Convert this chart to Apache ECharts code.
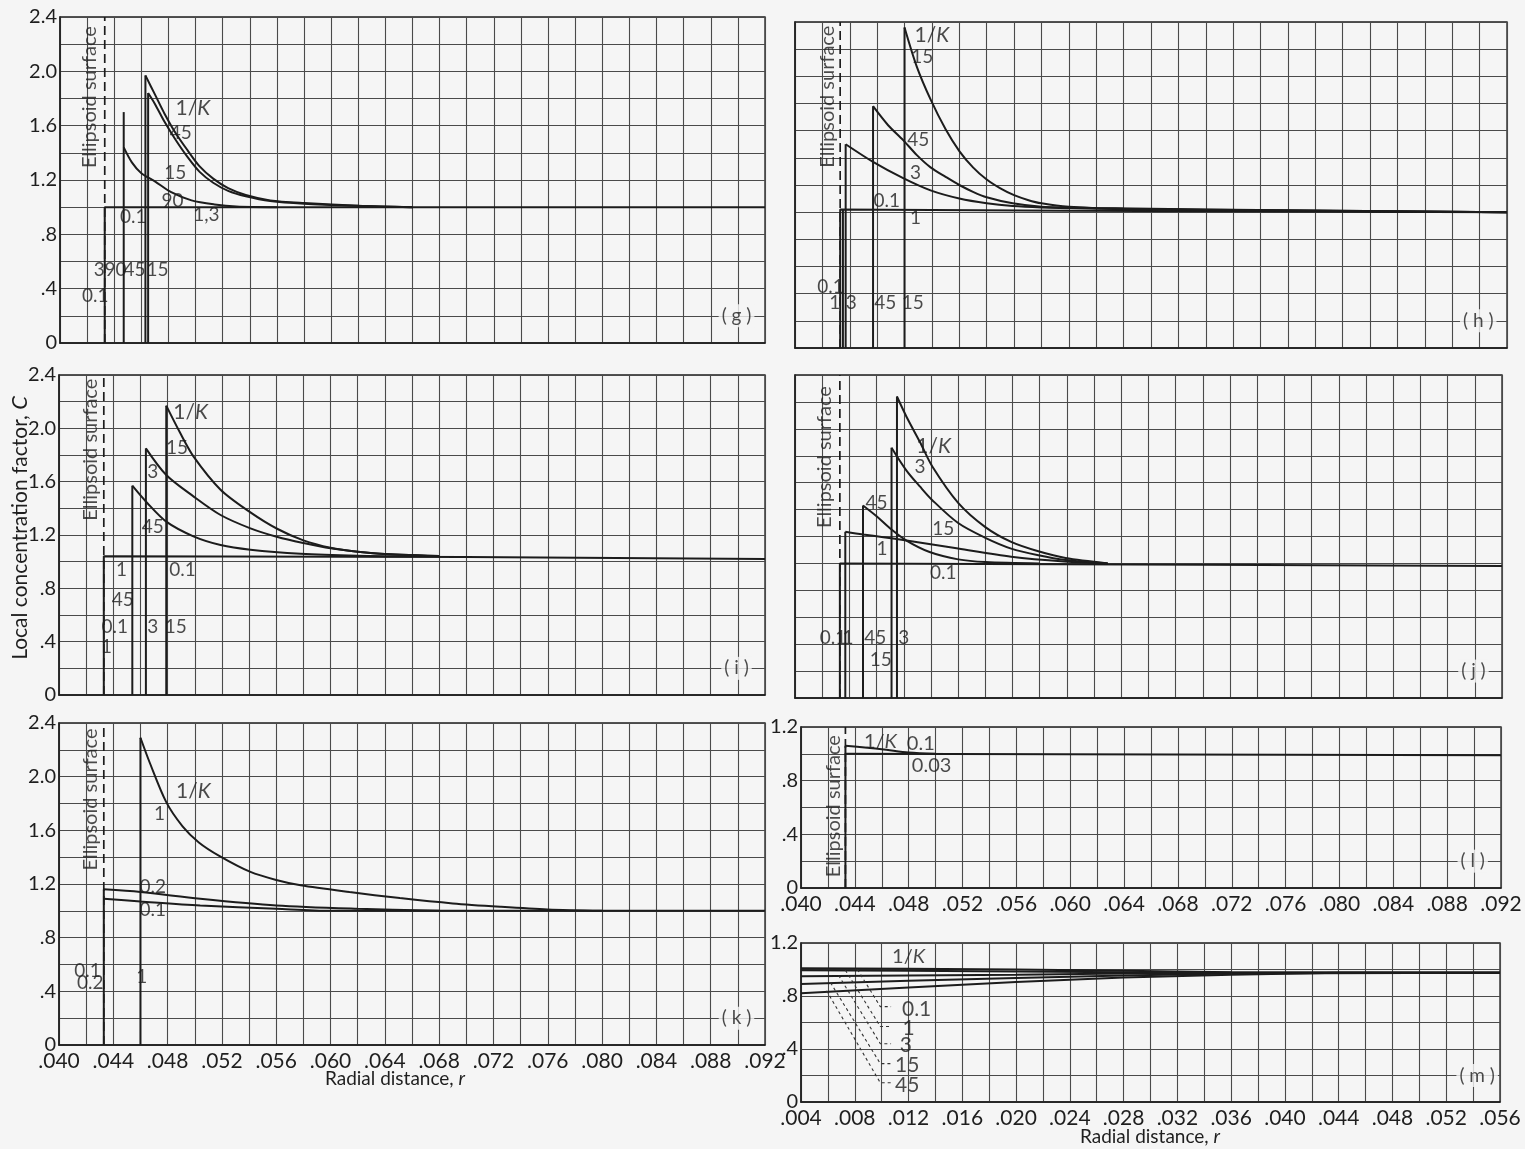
<!DOCTYPE html>
<html><head><meta charset="utf-8">
<script src="https://cdn.jsdelivr.net/npm/echarts/dist/echarts.min.js"></script>
<style>html,body{margin:0;padding:0;background:#f5f5f5}#c{width:1525px;height:1149px}</style>
</head><body><div id="c"></div>
<script>
// ---------- DATA ----------
const ELLIPSOID_R = 0.0433;

// panel (g)
const gBase   = [[0.0433,0],[0.0433,1.0],[0.092,1.0]];
const g90Stem = [[0.0447,0],[0.0447,1.70]];
const g90 = [[0.0447,1.44],[0.0453,1.33],[0.0460,1.25],[0.0470,1.19],[0.0482,1.11],[0.0497,1.05],[0.0514,1.02],[0.0530,1.005],[0.0560,1.0]];
const g45 = [[0.0463,1.97],[0.0470,1.83],[0.0477,1.69],[0.0485,1.55],[0.0494,1.42],[0.0503,1.30],[0.0513,1.21],[0.0524,1.14],[0.0537,1.09],[0.0555,1.05],[0.0580,1.03],[0.0620,1.01],[0.0660,1.0]];
const g15 = [[0.0465,1.84],[0.0470,1.76],[0.0477,1.63],[0.0485,1.50],[0.0494,1.37],[0.0503,1.26],[0.0513,1.18],[0.0524,1.12],[0.0537,1.08],[0.0555,1.045],[0.0580,1.025],[0.0620,1.01],[0.0660,1.0]];
const gLabels = [[0.0498,1.73,'1/K'],[0.0489,1.55,'45'],[0.0485,1.25,'15'],[0.0483,1.05,'90'],[0.0508,0.94,'1,3'],[0.0454,0.93,'0.1'],
  [0.0429,0.54,'3'],[0.0441,0.54,'90'],[0.0455,0.54,'45'],[0.0472,0.54,'15'],[0.0426,0.35,'0.1'],[0.0422,1.81,'Ellipsoid surface']];

// panel (h)
const hBase   = [[0.0433,0],[0.0433,1.02],[0.060,1.01],[0.092,1.0]];
const h1Stem  = [[0.0435,0],[0.0435,1.02]];
const h3  = [[0.0437,1.50],[0.0457,1.37],[0.0479,1.25],[0.0499,1.16],[0.0520,1.10],[0.0540,1.065],[0.0559,1.045],[0.0580,1.035],[0.0620,1.025],[0.0700,1.015],[0.0920,1.0]];
const h45 = [[0.0457,1.78],[0.0468,1.64],[0.0479,1.53],[0.0489,1.42],[0.0499,1.33],[0.0510,1.26],[0.0520,1.20],[0.0530,1.15],[0.0540,1.11],[0.0559,1.065],[0.0580,1.04],[0.0620,1.03],[0.0700,1.02],[0.0920,1.0]];
const h15 = [[0.0480,2.36],[0.0489,2.07],[0.0499,1.83],[0.0510,1.61],[0.0520,1.45],[0.0530,1.33],[0.0540,1.24],[0.0550,1.175],[0.0560,1.125],[0.0570,1.09],[0.0580,1.065],[0.0600,1.04],[0.0640,1.025],[0.0700,1.018],[0.0920,1.0]];
const hLabels = [[0.0500,2.30,'1/K'],[0.0493,2.14,'15'],[0.0490,1.53,'45'],[0.0488,1.29,'3'],[0.0467,1.08,'0.1'],[0.0488,0.96,'1'],
  [0.0426,0.45,'0.1'],[0.0429,0.33,'1'],[0.0441,0.33,'3'],[0.0466,0.33,'45'],[0.0486,0.33,'15'],[0.0424,1.85,'Ellipsoid surface']];

// panel (i)
const iBase = [[0.0433,0],[0.0433,1.04],[0.070,1.035],[0.092,1.02]];
const i45 = [[0.0454,1.57],[0.0465,1.44],[0.0479,1.30],[0.0499,1.19],[0.0519,1.125],[0.0541,1.09],[0.0578,1.06],[0.0620,1.045],[0.0660,1.04]];
const i3  = [[0.0464,1.85],[0.0479,1.65],[0.0499,1.49],[0.0519,1.35],[0.0541,1.25],[0.0561,1.185],[0.0580,1.14],[0.0600,1.10],[0.0620,1.075],[0.0640,1.058],[0.0680,1.042]];
const i15 = [[0.0479,2.17],[0.0489,1.97],[0.0499,1.79],[0.0519,1.54],[0.0541,1.37],[0.0561,1.245],[0.0580,1.16],[0.0600,1.105],[0.0620,1.075],[0.0640,1.058],[0.0680,1.042]];
const iLabels = [[0.0497,2.12,'1/K'],[0.0487,1.85,'15'],[0.0469,1.67,'3'],[0.0469,1.26,'45'],[0.0446,0.94,'1'],[0.0491,0.94,'0.1'],
  [0.0447,0.71,'45'],[0.0441,0.51,'0.1'],[0.0469,0.51,'3'],[0.0486,0.51,'15'],[0.0435,0.36,'1'],[0.0423,1.84,'Ellipsoid surface']];

// panel (j)
const jBase = [[0.0433,0],[0.0433,1.0],[0.070,0.99],[0.092,0.98]];
const j1  = [[0.0437,1.235],[0.0450,1.215],[0.0465,1.195],[0.0482,1.17],[0.0520,1.11],[0.0559,1.05],[0.0598,1.015],[0.0630,1.0]];
const j45 = [[0.0450,1.43],[0.0460,1.35],[0.0470,1.26],[0.0482,1.17],[0.0499,1.085],[0.0520,1.03],[0.0540,1.01],[0.0580,1.0]];
const j15 = [[0.0471,1.86],[0.0482,1.69],[0.0492,1.57],[0.0501,1.47],[0.0520,1.30],[0.0540,1.19],[0.0559,1.11],[0.0579,1.06],[0.0599,1.025],[0.0630,1.0]];
const j3  = [[0.0475,2.24],[0.0482,2.09],[0.0492,1.90],[0.0501,1.72],[0.0520,1.45],[0.0540,1.27],[0.0559,1.16],[0.0579,1.09],[0.0599,1.04],[0.0630,1.0]];
const jLabels = [[0.0502,1.87,'1/K'],[0.0492,1.72,'3'],[0.0509,1.26,'15'],[0.0460,1.45,'45'],[0.0464,1.11,'1'],[0.0509,0.93,'0.1'],
  [0.0428,0.45,'0.1'],[0.0439,0.45,'1'],[0.0459,0.45,'45'],[0.0480,0.45,'3'],[0.0463,0.28,'15'],[0.0422,1.79,'Ellipsoid surface']];

// panel (k)
const kStem = [[0.0433,0],[0.0433,1.16]];
const k01 = [[0.0433,1.09],[0.0460,1.07],[0.0504,1.04],[0.0560,1.015],[0.0600,1.0],[0.0920,1.0]];
const k02 = [[0.0433,1.16],[0.0460,1.14],[0.0504,1.09],[0.0560,1.04],[0.0620,1.015],[0.0680,1.0]];
const k1  = [[0.0460,2.29],[0.0467,2.10],[0.0479,1.81],[0.0491,1.63],[0.0503,1.51],[0.0518,1.41],[0.0541,1.29],[0.0560,1.23],[0.0578,1.19],[0.0614,1.14],[0.0651,1.095],[0.0690,1.055],[0.0725,1.03],[0.0760,1.01],[0.0800,1.0]];
const kLabels = [[0.0499,1.89,'1/K'],[0.0474,1.72,'1'],[0.0469,1.18,'0.2'],[0.0469,1.01,'0.1'],
  [0.0421,0.55,'0.1'],[0.0423,0.46,'0.2'],[0.0461,0.51,'1'],[0.0423,1.83,'Ellipsoid surface']];

// panel (l)
const lStem = [[0.0433,0],[0.0433,1.06]];
const l01  = [[0.0433,1.06],[0.0460,1.035],[0.0480,1.01],[0.0500,1.0]];
const l003 = [[0.0433,1.0],[0.0920,0.99]];
const lLabels = [[0.0459,1.09,'1/K'],[0.0489,1.08,'0.1'],[0.0497,0.91,'0.03'],[0.0424,0.61,'Ellipsoid surface']];

// panel (m)
const m01 = [[0.004,1.01],[0.012,1.005],[0.020,1.0],[0.028,0.99],[0.036,0.98],[0.056,0.975]];
const m1  = [[0.004,0.995],[0.012,0.99],[0.020,0.985],[0.028,0.98],[0.036,0.975],[0.056,0.975]];
const m3  = [[0.004,0.95],[0.012,0.955],[0.020,0.96],[0.028,0.97],[0.036,0.975],[0.056,0.975]];
const m15 = [[0.004,0.89],[0.012,0.915],[0.020,0.935],[0.028,0.955],[0.036,0.97],[0.056,0.975]];
const m45 = [[0.004,0.82],[0.012,0.865],[0.020,0.905],[0.028,0.94],[0.036,0.96],[0.044,0.975],[0.056,0.975]];
const mLeaders = [
  [[0.0082,1.0],[0.0099,0.72],[0.0107,0.72]],
  [[0.0073,0.995],[0.0099,0.57],[0.0107,0.57]],
  [[0.0068,0.955],[0.0099,0.44],[0.0107,0.44]],
  [[0.0062,0.90],[0.0099,0.29],[0.0107,0.29]],
  [[0.0059,0.84],[0.0099,0.145],[0.0107,0.145]]
];
const mLabels = [[0.0120,1.10,'1/K'],[0.0126,0.70,'0.1'],[0.0120,0.56,'1'],[0.0118,0.43,'3'],[0.0119,0.28,'15'],[0.0119,0.13,'45']];

const panelTags = ['( g )','( h )','( i )','( j )','( k )','( l )','( m )'];

// ---------- CHART ----------
const FONT = 'Lato, "DejaVu Sans", sans-serif';
const INK = '#1c1c1c', GRIDC = '#4a4a4a', BG = '#f5f5f5', TXT = '#1e1e1e';

const layout = [
  {left:60,  top:17,  width:705, height:326, xmin:0.040, xmax:0.092, ymax:2.4, xl:false, yl:true,  ell:true},  // g
  {left:795, top:22,  width:712, height:326, xmin:0.040, xmax:0.092, ymax:2.4, xl:false, yl:false, ell:true},  // h
  {left:59,  top:375, width:706, height:320, xmin:0.040, xmax:0.092, ymax:2.4, xl:false, yl:true,  ell:true},  // i
  {left:795, top:375, width:707, height:323, xmin:0.040, xmax:0.092, ymax:2.4, xl:false, yl:false, ell:true},  // j
  {left:59,  top:723, width:706, height:322, xmin:0.040, xmax:0.092, ymax:2.4, xl:true,  yl:true,  ell:true},  // k
  {left:801, top:727, width:700, height:161, xmin:0.040, xmax:0.092, ymax:1.2, xl:true,  yl:true,  ell:true},  // l
  {left:801, top:943, width:699, height:159, xmin:0.004, xmax:0.056, ymax:1.2, xl:true,  yl:true,  ell:false}  // m
];

const fmtX = v => (Math.round(v*1000) % 4 === 0) ? v.toFixed(3).replace(/^0/, '') : '';
const fmtY = v => { const k = Math.round(v*10); if (k % 4) return ''; if (k === 0) return '0'; return v < 1 ? '.' + k : v.toFixed(1); };

const grids = [], xAxes = [], yAxes = [], series = [];
layout.forEach((L, i) => {
  grids.push({left:L.left, top:L.top, width:L.width, height:L.height, show:true, borderColor:INK, borderWidth:1.3, backgroundColor:'transparent'});
  xAxes.push({type:'value', gridIndex:i, min:L.xmin, max:L.xmax, interval:0.002,
    axisLine:{show:true, onZero:false, lineStyle:{color:INK, width:1.5}}, axisTick:{show:false},
    axisLabel:{show:L.xl, margin:6, fontSize:21, color:TXT, fontFamily:FONT, formatter:fmtX, showMinLabel:true, showMaxLabel:true},
    splitLine:{show:true, lineStyle:{color:GRIDC, width:1.1}}});
  yAxes.push({type:'value', gridIndex:i, min:0, max:L.ymax, interval:0.2,
    axisLine:{show:true, onZero:false, lineStyle:{color:INK, width:1.5}}, axisTick:{show:false},
    axisLabel:{show:L.yl, margin:3, fontSize:20, color:TXT, fontFamily:FONT, formatter:fmtY, showMinLabel:true, showMaxLabel:true},
    splitLine:{show:true, lineStyle:{color:GRIDC, width:1.1}}});
});

function line(i, pts, smooth, extra) {
  series.push(Object.assign({type:'line', xAxisIndex:i, yAxisIndex:i, data:pts, symbol:'none', smooth:smooth || false,
    silent:true, z:4, lineStyle:{color:INK, width:2}}, extra || {}));
}
function curve(i, pts) {
  line(i, [[pts[0][0], 0], [pts[0][0], pts[0][1]]], false);
  line(i, pts, 0.3);
}
function ellipsoid(i, ymax) {
  line(i, [[ELLIPSOID_R, 0], [ELLIPSOID_R, ymax]], false, {z:3, lineStyle:{color:INK, width:1.7, type:[9,5]}});
}
function labels(i, arr, fs, kfs) {
  const rich = {n:{fontSize:kfs, fontFamily:FONT, color:TXT}, k:{fontSize:kfs, fontFamily:FONT, color:TXT, fontStyle:'italic'}};
  series.push({type:'scatter', xAxisIndex:i, yAxisIndex:i, symbolSize:1, itemStyle:{color:'rgba(0,0,0,0)'}, silent:true, z:10,
    data: arr.map(a => a[2].indexOf('Ellipsoid') === 0
      ? {value:a, label:{show:true, rotate:90, fontSize:20, fontFamily:FONT, color:TXT}}
      : {value:a, label:{show:true, fontSize:fs, fontFamily:FONT, color:TXT, rich:rich}}),
    label:{show:true, position:'inside', fontSize:fs, color:TXT, fontFamily:FONT,
      formatter: p => p.value[2] === '1/K' ? '{n|1/}{k|K}' : p.value[2], rich:rich}});
}
function tag(i, text, x) {
  series.push({type:'scatter', xAxisIndex:i, yAxisIndex:i, symbolSize:1, itemStyle:{color:'rgba(0,0,0,0)'}, silent:true, z:11,
    data:[{value:[x, 0.2, text], label:{show:true, fontSize:19, fontFamily:FONT, color:TXT}}],
    label:{show:true, position:'inside', fontSize:19, color:TXT, fontFamily:FONT, backgroundColor:BG, padding:[2,3],
      formatter: p => p.value[2]}});
}

layout.forEach((L, i) => { if (L.ell) ellipsoid(i, L.ymax); });
// g
line(0, gBase); line(0, g90Stem); line(0, g90, 0.3); curve(0, g45); curve(0, g15); labels(0, gLabels, 19, 21);
// h
line(1, hBase); line(1, h1Stem); curve(1, h3); curve(1, h45); curve(1, h15); labels(1, hLabels, 19, 21);
// i
line(2, iBase); curve(2, i45); curve(2, i3); curve(2, i15); labels(2, iLabels, 19, 21);
// j
line(3, jBase); curve(3, j1); curve(3, j45); curve(3, j15); curve(3, j3); labels(3, jLabels, 19, 21);
// k
line(4, kStem); line(4, k01, 0.3); line(4, k02, 0.3); curve(4, k1); labels(4, kLabels, 19, 21);
// l
line(5, lStem); line(5, l01, 0.3); line(5, l003); labels(5, lLabels, 20, 20);
// m
[m01, m1, m3, m15, m45].forEach(s => line(6, s, false, {lineStyle:{color:INK, width:2}}));
mLeaders.forEach(s => line(6, s, false, {lineStyle:{color:'#333', width:1.1, type:[3,3]}}));
labels(6, mLabels, 21, 20);

panelTags.forEach((t, i) => tag(i, t, i === 6 ? 0.0543 : 0.0899));

const option = {
  backgroundColor: BG,
  animation: false,
  grid: grids, xAxis: xAxes, yAxis: yAxes, series: series,
  graphic: [
    {type:'text', x:20, y:528, rotation:Math.PI/2,
      style:{text:'Local concentration factor, {i|C}', fontSize:21, fontFamily:FONT, fill:TXT, textAlign:'center', textVerticalAlign:'middle',
        rich:{i:{fontStyle:'italic', fontSize:22, fontFamily:FONT, fill:TXT}}}},
    {type:'text', x:395, y:1079,
      style:{text:'Radial distance, {i|r}', fontSize:19, fontFamily:FONT, fill:TXT, textAlign:'center', textVerticalAlign:'middle',
        rich:{i:{fontStyle:'italic', fontSize:19, fontFamily:FONT, fill:TXT}}}},
    {type:'text', x:1150, y:1137,
      style:{text:'Radial distance, {i|r}', fontSize:19, fontFamily:FONT, fill:TXT, textAlign:'center', textVerticalAlign:'middle',
        rich:{i:{fontStyle:'italic', fontSize:19, fontFamily:FONT, fill:TXT}}}}
  ]
};
const chart = echarts.init(document.getElementById('c'));
chart.setOption(option);
</script></body></html>
